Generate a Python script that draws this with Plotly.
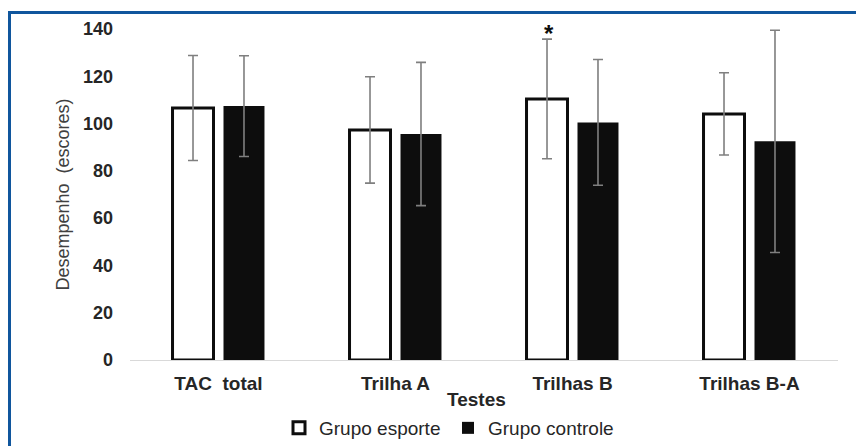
import plotly.graph_objects as go

categories = ["TAC  total", "Trilha A", "Trilhas B", "Trilhas B-A"]
esporte = [106.6, 97.3, 110.4, 104.1]
esporte_err = [22.2, 22.5, 25.3, 17.4]
controle = [107.4, 95.6, 100.5, 92.5]
controle_err = [21.3, 30.3, 26.6, 47.0]
y_ticks = [0, 20, 40, 60, 80, 100, 120, 140]
series_names = ["Grupo esporte", "Grupo controle"]
sig_marker = "*"
sig_category = "Trilhas B"

FONT = "Liberation Sans, Arial, sans-serif"
ERR = dict(type="data", visible=True, color="#7f7f7f", thickness=1.6, width=5)

# the page body adds an 8px offset; design coordinates below are page pixels
OFF = 8
W, H = 864 - OFF, 446 - OFF
ml, mr, mt, mb = 130 - OFF, 26, 29 - OFF, 86
pw = W - ml - mr
ph = H - mt - mb

def px_x(p):
    return (p - OFF - ml) / pw

def px_y(p):
    return (H - mb - (p - OFF)) / ph

fig = go.Figure()
fig.add_trace(go.Bar(
    x=categories, y=esporte, name=series_names[0],
    marker=dict(color="white", line=dict(color="#0d0d0d", width=3)),
    error_y=dict(array=esporte_err, **ERR),
))
fig.add_trace(go.Bar(
    x=categories, y=controle, name=series_names[1],
    marker=dict(color="#0d0d0d", line=dict(color="#0d0d0d", width=0)),
    error_y=dict(array=controle_err, **ERR),
))

idx = categories.index(sig_category)
fig.add_annotation(
    x=sig_category, y=esporte[idx] + esporte_err[idx], text=sig_marker,
    showarrow=False, xshift=-24, yshift=-10, yanchor="bottom",
    font=dict(family=FONT, size=24, color="#0d0d0d", weight="bold"),
)
fig.add_annotation(
    xref="paper", yref="paper", x=px_x(476), y=px_y(399), text="Testes",
    showarrow=False, xanchor="center", yanchor="middle",
    font=dict(family=FONT, size=19, color="#262626", weight="bold"),
)

# frame lines (blue)
fig.add_shape(type="line", xref="paper", yref="paper",
              x0=px_x(8), x1=px_x(870), y0=px_y(12.5), y1=px_y(12.5),
              line=dict(color="#10569d", width=3))
fig.add_shape(type="line", xref="paper", yref="paper",
              x0=px_x(9.5), x1=px_x(9.5), y0=px_y(11), y1=px_y(460),
              line=dict(color="#10569d", width=3))

fig.update_layout(
    width=W, height=H,
    margin=dict(l=ml, r=mr, t=mt, b=mb, autoexpand=False),
    paper_bgcolor="white", plot_bgcolor="white",
    barmode="group", bargap=0.424, bargroupgap=0.196,
    font=dict(family=FONT, color="#262626"),
    showlegend=True,
    legend=dict(orientation="h", x=px_x(448), y=px_y(428), xanchor="center", yanchor="middle",
                font=dict(family=FONT, size=19, color="#262626"),
                itemwidth=30, entrywidth=124, entrywidthmode="pixels",
                traceorder="normal", bgcolor="rgba(0,0,0,0)"),
    xaxis=dict(
        showline=True, linecolor="#d9d9d9", linewidth=1.2, ticks="",
        ticklabelstandoff=6,
        tickfont=dict(family=FONT, size=19, color="#262626", weight="bold"),
        showgrid=False,
    ),
    yaxis=dict(
        range=[0, 140], tickvals=y_ticks, showgrid=False, zeroline=False,
        showline=False, ticks="", ticklabelstandoff=16,
        tickfont=dict(family=FONT, size=18, color="#262626", weight="bold"),
        title=dict(text="Desempenho  (escores)", standoff=8,
                   font=dict(family=FONT, size=18, color="#404040")),
    ),
)

fig.write_html("out.html")
